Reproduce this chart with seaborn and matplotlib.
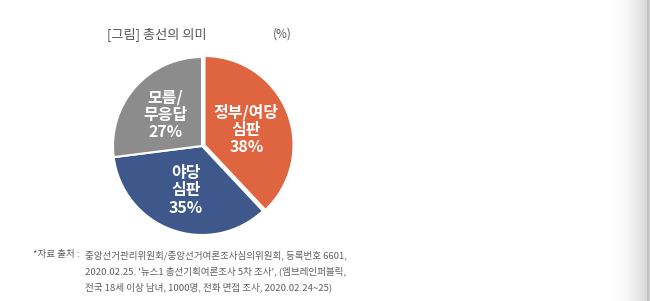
import numpy as np
import matplotlib
matplotlib.use("Agg")
import matplotlib.pyplot as plt
import seaborn as sns

categories = ["정부/여당\n심판", "야당\n심판", "모름/\n무응답"]
values = [38, 35, 27]
colors = ["#DF6440", "#3E588B", "#8C8C8C"]
explode = [0.03, 0, 0]
label_angles = [20, -110, 140]
label_dists = [0.53, 0.53, 0.54]

sns.set_theme(style="white")
plt.rcParams['font.family'] = ['Noto Sans CJK KR', 'DejaVu Sans']

fig = plt.figure(figsize=(6.5, 3.01), dpi=100)
W, H = 650, 301

# right-edge shadow
sh = fig.add_axes([608 / W, 0, 42 / W, 1])
grad = np.linspace(0, 1, 200) ** 2
img = np.ones((2, 200, 3))
for i in range(3):
    img[:, :, i] = 1 - 0.18 * grad
sh.imshow(img, aspect="auto", extent=[0, 1, 0, 1])
sh.axvline(0.95, color="#BDBDBD", lw=1.2)
sh.set_axis_off()

cx, cy, r = 202, 301 - 146, 89
ax = fig.add_axes([(cx - r) / W, (cy - r) / H, 2 * r / W, 2 * r / H])
wedges, _ = ax.pie(values, colors=colors, startangle=90, counterclock=False,
                   explode=explode,
                   wedgeprops=dict(edgecolor="white", linewidth=1.5))
ax.set_xlim(-1.0, 1.0)
ax.set_ylim(-1.0, 1.0)
for cat, v, a, d in zip(categories, values, label_angles, label_dists):
    t = np.deg2rad(a)
    ax.text(d * np.cos(t), d * np.sin(t), f"{cat}\n{v}%", ha="center", va="center",
            color="white", fontsize=11.5, linespacing=1.1, fontweight="bold")

fig.text(107 / W, 1 - 34 / H, "[그림] 총선의 의미", fontsize=9.5, color="#555555",
         ha="left", va="center")
fig.text(273 / W, 1 - 34 / H, "(%)", fontsize=8.5, color="#555555", ha="left", va="center")

fig.text(33 / W, 1 - 255 / H, "*자료 출처 :", fontsize=6.9, color="#5F5F5F", va="center")
notes = ["중앙선거관리위원회/중앙선거여론조사심의위원회, 등록번호 6601,",
         "2020.02.25. '뉴스1 총선기획여론조사 5차 조사', (엠브레인퍼블릭,",
         "전국 18세 이상 남녀, 1000명, 전화 면접 조사, 2020.02.24~25)"]
for i, n in enumerate(notes):
    fig.text(85 / W, 1 - (255 + 16 * i) / H, n, fontsize=6.9, color="#5F5F5F", va="center")

fig.savefig("out.png", dpi=100)
